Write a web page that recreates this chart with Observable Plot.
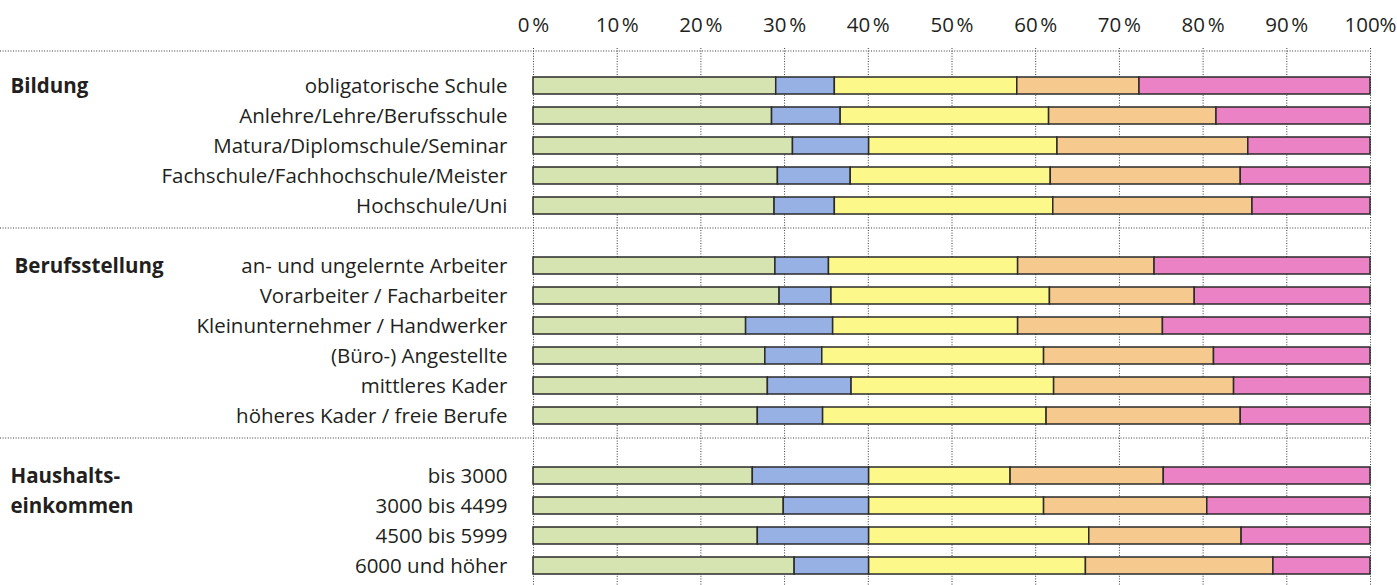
<!DOCTYPE html>
<html>
<head>
<meta charset="utf-8">
<script src="https://cdn.jsdelivr.net/npm/d3@7"></script>
<script src="https://cdn.jsdelivr.net/npm/@observablehq/plot@0.6"></script>
<style>
  html, body { margin: 0; padding: 0; background: #fff; }
  #chart svg { display: block; }
</style>
</head>
<body>
<div id="chart"></div>
<script>
// ---- data ----
const rowLabels = [
  "obligatorische Schule",
  "Anlehre/Lehre/Berufsschule",
  "Matura/Diplomschule/Seminar",
  "Fachschule/Fachhochschule/Meister",
  "Hochschule/Uni",
  "an- und ungelernte Arbeiter",
  "Vorarbeiter / Facharbeiter",
  "Kleinunternehmer / Handwerker",
  "(Büro-) Angestellte",
  "mittleres Kader",
  "höheres Kader / freie Berufe",
  "bis 3000",
  "3000 bis 4499",
  "4500 bis 5999",
  "6000 und höher"
];
const spacers = ["·1", "·2"];
const groupLabels = ["Bildung", "Haushalts-", "einkommen"];
const groupRows = [rowLabels[0], rowLabels[11], rowLabels[12]];
const groupLabel2 = ["Berufsstellung"];
const groupRow2 = [rowLabels[5]];
const seriesNames = ["Kategorie 1", "Kategorie 2", "Kategorie 3", "Kategorie 4", "Kategorie 5"];
const seriesColors = ["#d5e4b0", "#98b1e4", "#fcf98a", "#f6ca8e", "#ec82c6"];
const s1 = [29.0, 28.5, 31.0, 29.2, 28.8, 28.9, 29.4, 25.4, 27.7, 28.0, 26.8, 26.2, 29.9, 26.8, 31.2];
const s2 = [7.0, 8.2, 9.1, 8.7, 7.2, 6.4, 6.2, 10.4, 6.8, 10.0, 7.8, 13.9, 10.2, 13.3, 8.9];
const s3 = [21.8, 24.9, 22.5, 23.9, 26.1, 22.6, 26.1, 22.1, 26.5, 24.2, 26.7, 16.9, 20.9, 26.3, 25.9];
const s4 = [14.6, 20.0, 22.8, 22.7, 23.8, 16.3, 17.3, 17.3, 20.3, 21.5, 23.2, 18.3, 19.5, 18.2, 22.4];
const s5 = [27.6, 18.4, 14.6, 15.5, 14.1, 25.8, 21.0, 24.8, 18.7, 16.3, 15.5, 24.7, 19.5, 15.4, 11.6];
const xTicks = [0, 10, 20, 30, 40, 50, 60, 70, 80, 90, 100];

// ---- build table ----
const seriesValues = [s1, s2, s3, s4, s5];
const table = [];
rowLabels.forEach((r, i) => {
  seriesValues.forEach((vals, k) => {
    table.push({row: r, series: seriesNames[k], value: vals[i]});
  });
});
const yDomain = [
  ...rowLabels.slice(0, 5), spacers[0],
  ...rowLabels.slice(5, 11), spacers[1],
  ...rowLabels.slice(11)
];
const ink = "#231f20";
const dots = "1,1.6";

const chart = Plot.plot({
  width: 1397,
  height: 585,
  marginLeft: 0,
  marginRight: 27,
  marginTop: 48,
  marginBottom: 0,
  style: {fontFamily: "'Open Sans', sans-serif", fontSize: "20.5px", color: ink, background: "#fff"},
  x: {domain: [0, 100], range: [533, 1370], label: null},
  y: {domain: yDomain, range: [61.2, 589.1], padding: 0.438, axis: null},
  color: {domain: seriesNames, range: seriesColors},
  marks: [
    Plot.gridX(xTicks, {stroke: "#3a3a3a", strokeOpacity: 1, strokeWidth: 1, strokeDasharray: dots}),
    Plot.ruleY([rowLabels[0]], {dy: -35, stroke: "#3a3a3a", strokeWidth: 1, strokeDasharray: dots}),
    Plot.ruleY(spacers, {dy: -8, stroke: "#3a3a3a", strokeWidth: 1, strokeDasharray: dots}),
    Plot.barX(table, Plot.stackX({
      x: "value", y: "row", fill: "series", order: seriesNames,
      stroke: "#2a2a2a", strokeWidth: 1.5
    })),
    Plot.axisX({
      anchor: "top", ticks: xTicks, tickSize: 0, tickPadding: 17, label: null,
      fontSize: 20.5, fill: ink,
      tickFormat: d => d === 100 ? "100%" : d + "\u202F%"
    }),
    Plot.text(rowLabels, {
      y: d => d, text: d => d, frameAnchor: "left", dx: 507,
      textAnchor: "end", fontSize: 20.5, fill: ink
    }),
    Plot.text(groupLabels, {
      y: (d, i) => groupRows[i], text: d => d, frameAnchor: "left",
      dx: 10, textAnchor: "start", fontSize: 20.5, fontWeight: "bold", fill: ink
    }),
    Plot.text(groupLabel2, {
      y: (d, i) => groupRow2[i], text: d => d, frameAnchor: "left",
      dx: 14, textAnchor: "start", fontSize: 20.5, fontWeight: "bold", fill: ink
    })
  ]
});
document.getElementById("chart").appendChild(chart);
</script>
</body>
</html>
